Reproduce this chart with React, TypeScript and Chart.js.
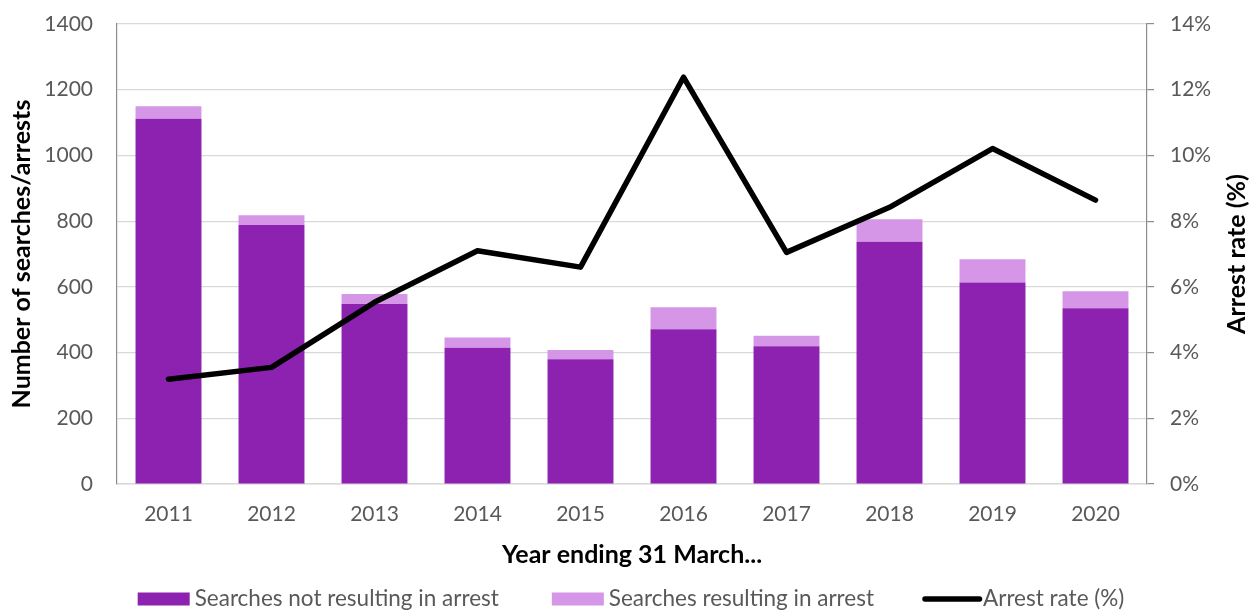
import { useEffect, useRef } from 'react';
import { Chart, registerables } from 'chart.js';

Chart.register(...registerables);

const years = ['2011', '2012', '2013', '2014', '2015', '2016', '2017', '2018', '2019', '2020'];
const notArrested = [1112, 788, 548, 415, 380, 471, 419, 737, 613, 535];
const arrested = [38, 30, 30, 31, 28, 67, 32, 69, 71, 52];
const arrestRate = [3.19, 3.55, 5.53, 7.1, 6.6, 12.38, 7.05, 8.42, 10.21, 8.64];

const leftTicksMax = 1400;
const rightTicksMax = 14;

const DARK = '#8C22AF';
const LIGHT = '#D596E8';
const TICK_COLOR = '#595959';
const FONT = 'Lato';
const FS = 21;
const LEGEND_FS = 22.5;
const TITLE_FS = 25;

const customLegend = {
  id: 'customLegend',
  afterDraw(chart: any) {
    const ctx = chart.ctx;
    const area = chart.chartArea;
    ctx.save();
    ctx.font = `${LEGEND_FS}px ${FONT}`;
    ctx.textBaseline = 'middle';
    ctx.textAlign = 'left';
    const items = chart.data.datasets.map((ds: any) => ({
      label: ds.label,
      isLine: ds.type === 'line',
      color: ds.type === 'line' ? ds.borderColor : ds.backgroundColor,
    }));
    const widths = items.map((it: any) => {
      const mark = it.isLine ? 55 : 52;
      const gap = it.isLine ? 3 : 5;
      return mark + gap + ctx.measureText(it.label).width;
    });
    const spacing = 53;
    const total = widths.reduce((a: number, b: number) => a + b, 0) + spacing * (items.length - 1);
    let x = (area.left + area.right) / 2 - total / 2;
    const y = chart.height - 11;
    items.forEach((it: any, i: number) => {
      if (it.isLine) {
        ctx.strokeStyle = it.color;
        ctx.lineWidth = 5.5;
        ctx.lineCap = 'round';
        ctx.beginPath();
        ctx.moveTo(x - 2, y);
        ctx.lineTo(x + 52.5, y);
        ctx.stroke();
        ctx.fillStyle = TICK_COLOR;
        ctx.fillText(it.label, x + 56, y);
      } else {
        ctx.fillStyle = it.color;
        ctx.fillRect(x, y - 6.5, 52, 13);
        ctx.fillStyle = TICK_COLOR;
        ctx.fillText(it.label, x + 57, y);
      }
      x += widths[i] + spacing;
    });
    ctx.restore();
  },
};

const rightTitle = {
  id: 'rightTitle',
  afterDraw(chart: any) {
    const ctx = chart.ctx;
    const area = chart.chartArea;
    ctx.save();
    ctx.font = `bold ${TITLE_FS}px ${FONT}`;
    ctx.fillStyle = '#000000';
    ctx.textAlign = 'center';
    ctx.textBaseline = 'middle';
    ctx.translate(1237, (area.top + area.bottom) / 2);
    ctx.rotate(-Math.PI / 2);
    ctx.fillText('Arrest rate (%)', 0, 0);
    ctx.restore();
  },
};

export default function App() {
  const ref = useRef<HTMLCanvasElement | null>(null);

  useEffect(() => {
    if (!ref.current) return;
    Chart.defaults.font.family = FONT;
    Chart.defaults.font.size = FS;
    const chart = new Chart(ref.current, {
      type: 'bar',
      data: {
        labels: years,
        datasets: [
          {
            type: 'bar',
            label: 'Searches not resulting in arrest',
            data: notArrested,
            backgroundColor: DARK,
            yAxisID: 'y',
            order: 1,
            barPercentage: 0.64,
            categoryPercentage: 1,
          },
          {
            type: 'bar',
            label: 'Searches resulting in arrest',
            data: arrested,
            backgroundColor: LIGHT,
            yAxisID: 'y',
            order: 1,
            barPercentage: 0.64,
            categoryPercentage: 1,
          },
          {
            type: 'line',
            label: 'Arrest rate (%)',
            data: arrestRate,
            borderColor: '#000000',
            backgroundColor: '#000000',
            borderWidth: 5.5,
            pointRadius: 0,
            borderJoinStyle: 'round',
            borderCapStyle: 'round',
            tension: 0,
            yAxisID: 'y1',
            order: 0,
          } as any,
        ],
      },
      options: {
        animation: false,
        responsive: false,
        layout: { padding: { top: 24, bottom: 36, left: 0, right: 0 } },
        plugins: {
          legend: { display: false },
          tooltip: { enabled: false },
        },
        scales: {
          x: {
            stacked: true,
            grid: { display: false, drawTicks: false },
            border: { display: true, color: '#D9D9D9', width: 1.5 },
            ticks: { color: TICK_COLOR, padding: 18, font: { size: FS } },
            title: {
              display: true,
              text: 'Year ending 31 March...',
              color: '#000000',
              font: { size: TITLE_FS, weight: 'bold' },
              padding: { top: 0, bottom: 4 },
            },
            afterFit: (s: any) => { s.height = 90; },
          },
          y: {
            stacked: true,
            position: 'left',
            min: 0,
            max: leftTicksMax,
            ticks: {
              stepSize: 200,
              color: TICK_COLOR,
              padding: 24,
              font: { size: FS },
              callback: (v: any) => String(v),
            },
            grid: { color: '#D9D9D9', lineWidth: 1.2, drawTicks: false },
            border: { display: true, color: '#8C8C8C', width: 1.2 },
            title: {
              display: true,
              text: 'Number of searches/arrests',
              color: '#000000',
              font: { size: TITLE_FS, weight: 'bold' },
              padding: { top: 7, bottom: 0 },
            },
            afterFit: (s: any) => { s.width = 117; s.paddingTop = 12; s.paddingBottom = 12; },
          },
          y1: {
            position: 'right',
            min: 0,
            max: rightTicksMax,
            ticks: {
              stepSize: 2,
              color: TICK_COLOR,
              padding: 16,
              font: { size: FS },
              callback: (v: any) => `${v}%`,
            },
            grid: { drawOnChartArea: false, drawTicks: true, tickLength: 7, color: '#8C8C8C', lineWidth: 1.2 },
            border: { display: true, color: '#8C8C8C', width: 1.2 },
            afterFit: (s: any) => { s.width = 102; s.paddingTop = 12; s.paddingBottom = 12; },
          },
        },
      },
      plugins: [customLegend, rightTitle],
    } as any);
    return () => chart.destroy();
  }, []);

  return (
    <div style={{ position: 'absolute', left: 0, top: 0, width: 1249, height: 610, background: '#ffffff' }}>
      <canvas ref={ref} width={1249} height={610} style={{ display: 'block' }} />
    </div>
  );
}
